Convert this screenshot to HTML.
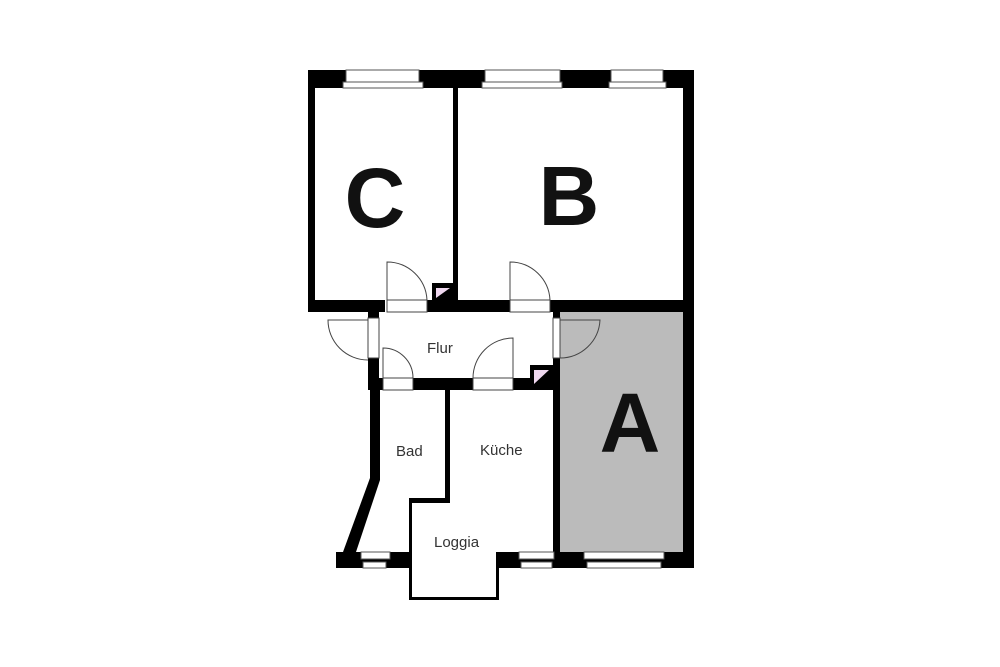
<!DOCTYPE html>
<html><head><style>body{margin:0;background:#fff}svg{display:block}</style></head><body>
<svg width="1000" height="667" viewBox="0 0 1000 667" xmlns="http://www.w3.org/2000/svg">
<rect width="1000" height="667" fill="#fff"/>
<rect x="558" y="312" width="125" height="240" fill="#bbb"/>
<g fill="#000">
<!-- top wall -->
<rect x="308" y="70" width="386" height="18"/>
<!-- left wall C -->
<rect x="308" y="70" width="7" height="242"/>
<rect x="453" y="70" width="5" height="232"/>
<rect x="683" y="70" width="11" height="498"/>
<!-- mid horizontal wall -->
<rect x="308" y="300" width="77" height="12"/>
<rect x="427" y="300" width="83" height="12"/>
<rect x="550" y="300" width="144" height="12"/>
<rect x="432" y="283" width="23" height="20"/>
<!-- flur left wall -->
<rect x="368" y="300" width="11" height="18"/>
<rect x="368" y="358" width="11" height="32"/>
<rect x="553" y="300" width="7" height="18"/>
<rect x="553" y="358" width="7" height="210"/>
<!-- flur bottom wall -->
<rect x="368" y="378" width="15" height="12"/>
<rect x="413" y="378" width="60" height="12"/>
<rect x="513" y="378" width="47" height="12"/>
<rect x="530" y="365" width="23" height="23"/>
<!-- bad left wall -->
<rect x="370" y="388" width="10" height="92"/>
<polygon points="370,478 380,480 356,552 343,552"/>
<!-- bad/kueche -->
<rect x="445" y="385" width="5" height="118"/>
<rect x="409" y="498" width="41" height="5"/>
<rect x="409" y="498" width="3" height="102"/>
<rect x="409" y="597" width="90" height="3"/>
<rect x="496" y="552" width="3" height="48"/>
<!-- bottom wall -->
<rect x="336" y="552" width="73" height="16"/>
<rect x="496" y="552" width="198" height="16"/>
</g>
<g fill="#fff" stroke="#555" stroke-width="1">
<!-- top windows -->
<rect x="346" y="70" width="73" height="12"/><rect x="343" y="82" width="80" height="6"/>
<rect x="485" y="70" width="75" height="12"/><rect x="482" y="82" width="80" height="6"/>
<rect x="611" y="70" width="52" height="12"/><rect x="609" y="82" width="57" height="6"/>
<!-- bottom windows -->
<rect x="361" y="552" width="29" height="7"/><rect x="363" y="562" width="23" height="6"/>
<rect x="519" y="552" width="35" height="7"/><rect x="521" y="562" width="31" height="6"/>
<rect x="584" y="552" width="80" height="7"/><rect x="587" y="562" width="74" height="6"/>
</g>
<g fill="#fff" stroke="#444" stroke-width="1">
<!-- door thresholds -->
<rect x="387" y="300" width="40" height="12"/>
<rect x="510" y="300" width="40" height="12"/>
<rect x="368" y="318" width="11" height="40"/>
<rect x="553" y="318" width="7" height="40"/>
<rect x="383" y="378" width="30" height="12"/>
<rect x="473" y="378" width="40" height="12"/>
</g>
<g fill="none" stroke="#444" stroke-width="1">
<path d="M387,300 V262 A40,40 0 0 1 427,300"/>
<path d="M510,300 V262 A40,40 0 0 1 550,300"/>
<path d="M368,320 H328 A40,40 0 0 0 368,360"/>
<path d="M560,320 H600 A40,40 0 0 1 560,358"/>
<path d="M383,378 V348 A30,30 0 0 1 413,378"/>
<path d="M513,378 V338 A40,40 0 0 0 473,378"/>
</g>
<polygon points="436,298 450,288 436,288" fill="#f0d8f0"/>
<polygon points="534,384 549,370 534,370" fill="#f0d8f0"/>
<g font-family="Liberation Sans, sans-serif" fill="#333" font-size="15">
<text x="427" y="353">Flur</text>
<text x="396" y="456">Bad</text>
<text x="480" y="455">Küche</text>
<text x="434" y="547">Loggia</text>
</g>
<g font-family="Liberation Sans, sans-serif" font-weight="bold" fill="#111" font-size="84">
<text x="375" y="227" text-anchor="middle">C</text>
<text x="569" y="225" text-anchor="middle">B</text>
<text x="630" y="452" text-anchor="middle">A</text>
</g>
</svg>
</body></html>
